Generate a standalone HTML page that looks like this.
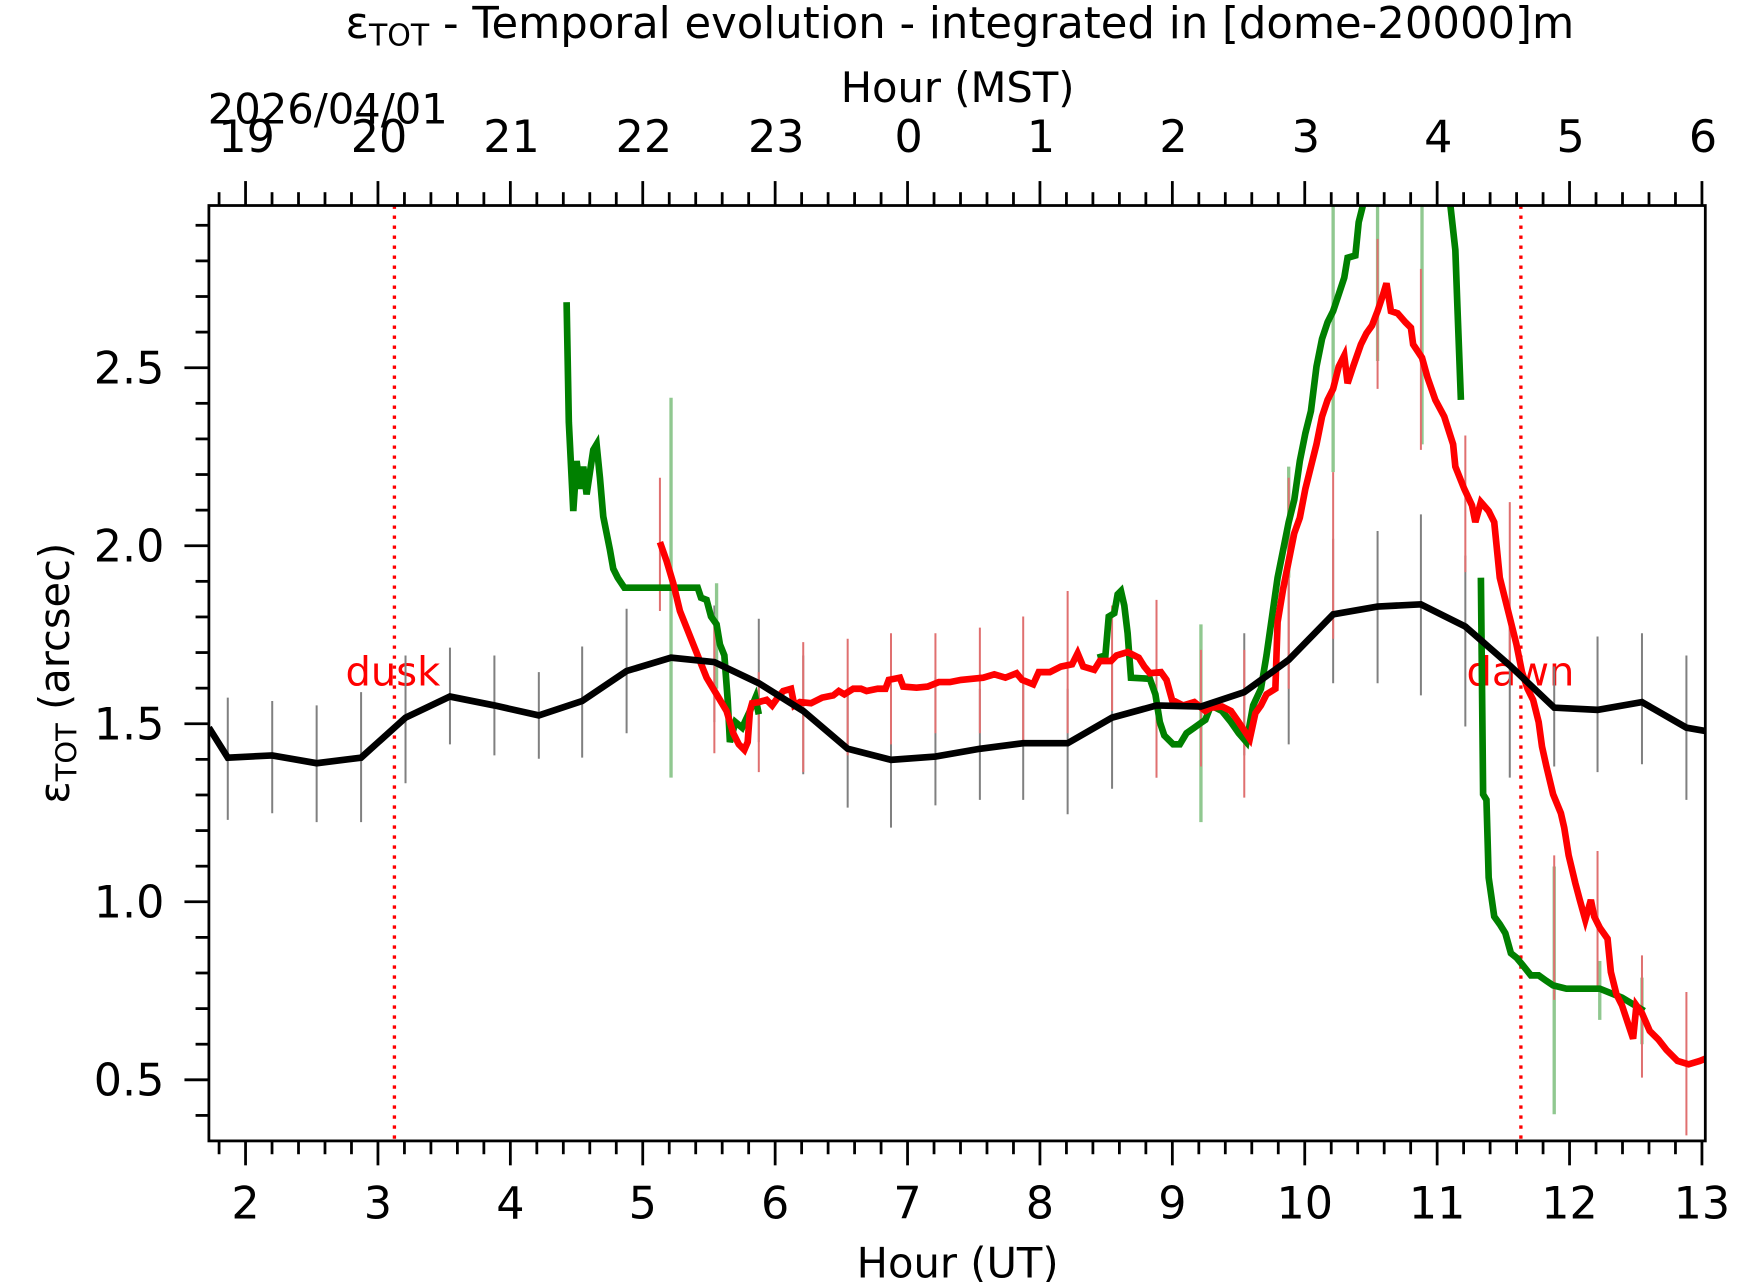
<!DOCTYPE html>
<html><head><meta charset="utf-8"><style>html,body{margin:0;padding:0;background:#fff}svg{display:block}</style></head>
<body>
<svg width="1742" height="1282" viewBox="0 0 1568 1154" xmlns="http://www.w3.org/2000/svg" font-family="'DejaVu Sans','Liberation Sans',sans-serif">
<rect width="1568" height="1154" fill="#fff"/>
<defs><clipPath id="c"><rect x="188" y="185" width="1347" height="842"/></clipPath></defs>
<g stroke="#000" stroke-width="2.5" id="ticks"></g>
<g clip-path="url(#c)">
<line x1="355" y1="185" x2="355" y2="1027" stroke="#f00" stroke-width="3" stroke-dasharray="3,6"/>
<line x1="1369" y1="185" x2="1369" y2="1027" stroke="#f00" stroke-width="3" stroke-dasharray="3,6"/>
<text x="311" y="617" fill="#f00" font-size="36">dusk</text>
<text x="1320" y="617" fill="#f00" font-size="36">dawn</text>
<g stroke="#808080" stroke-width="1.8" id="kerr"></g>
<g stroke="#90c890" stroke-width="3" id="gerr"></g>
<g stroke="#e07070" stroke-width="1.8" id="rerr"></g>
<polyline fill="none" stroke="#008000" stroke-width="6" points="510,272 512,380 516,460 519,415 522,440 525,420 528,445 531,425 534,405 537,400 540,430 543,465 546,480 549,495 552,512 556,520 562,529 628,529 631,538 636,540 640,555 645,562 648,580 652,590 655,630 657,668 662,650 668,655 675,640 680,628 683,643"/>
<polyline fill="none" stroke="#008000" stroke-width="6" points="988,592 995,590 998,555 1003,552 1006,535 1009,532 1012,545 1015,570 1018,610 1035,611 1040,625 1044,650 1048,662 1056,670 1062,670 1068,660 1075,655 1082,650 1085,648 1090,635 1100,640 1108,650 1115,660 1122,668 1128,635 1135,620 1140,590 1145,555 1150,520 1155,495 1160,470 1165,450 1170,415 1175,390 1180,370 1185,330 1190,305 1195,290 1200,280 1205,265 1210,250 1213,232 1220,230 1223,200 1228,180"/>
<polyline fill="none" stroke="#008000" stroke-width="6" points="1305,180 1310,225 1312,280 1315,360"/>
<polyline fill="none" stroke="#008000" stroke-width="6" points="1333,520 1335,715 1338,720 1340,790 1345,825 1350,832 1355,840 1360,858 1365,862 1370,868 1378,878 1385,878 1392,883 1398,887 1410,890 1440,890 1460,898 1480,910"/>
<polyline fill="none" stroke="#f00" stroke-width="6" points="594,488 600,505 606,525 612,550 618,565 624,580 630,595 636,610 642,620 648,630 654,640 660,660 665,670 670,675 673,668 675,640 677,633 683,632 690,630 695,635 700,628 705,622 712,620 715,635 720,632 730,633 740,628 750,626 755,622 760,625 768,620 775,620 780,622 790,620 797,620 800,612 810,610 813,618 825,619 835,618 845,614 855,614 865,612 875,611 885,610 895,607 905,610 915,606 920,612 930,616 935,605 945,605 955,600 965,598 970,588 975,600 985,603 990,595 1000,595 1005,590 1015,587 1025,592 1030,600 1035,606 1045,605 1050,612 1055,630 1065,635 1075,632 1085,640 1090,637 1100,636 1108,640 1115,650 1125,665 1130,642 1135,635 1140,625 1148,620 1150,560 1155,530 1160,505 1165,480 1170,466 1175,440 1180,420 1185,400 1190,375 1195,360 1200,350 1205,330 1210,320 1213,345 1218,330 1225,310 1230,300 1235,293 1240,280 1245,265 1248,255 1252,280 1258,282 1265,290 1270,295 1272,310 1280,322 1285,340 1292,360 1300,375 1308,400 1310,420 1318,440 1325,455 1328,470 1333,452 1340,460 1345,470 1350,520 1355,540 1360,560 1365,580 1370,605 1375,620 1380,630 1385,650 1388,672 1392,690 1398,715 1405,732 1408,745 1412,770 1418,795 1422,810 1427,828 1432,810 1435,825 1440,835 1447,845 1450,875 1455,895 1460,905 1465,920 1470,935 1473,905 1478,912 1485,928 1493,936 1500,945 1510,955 1520,958 1530,955 1535,953"/>
<polyline fill="none" stroke="#000" stroke-width="6" points="188,655 205,682 245,680 285,687 325,682 365,646 405,627 445,635 485,644 524,631 564,604 604,592 643,596 683,615 723,640 763,674 802,684 842,681 882,674 921,669 961,669 1001,646 1041,635 1081,636 1120,623 1160,594 1200,553 1240,546 1279,544 1319,564 1359,599 1399,637 1438,639 1478,632 1518,655 1535,658"/>
</g>
<rect x="188" y="185" width="1347" height="842" fill="none" stroke="#000" stroke-width="2.5"/>
<g font-size="40" text-anchor="middle" id="lbl"></g>
<text x="864" y="34" font-size="39" text-anchor="middle">ε<tspan font-size="27" dy="7">TOT</tspan><tspan dy="-7"> - Temporal evolution - integrated in [dome-20000]m</tspan></text>
<text x="862" y="92" font-size="37.5" text-anchor="middle">Hour (MST)</text>
<text x="295" y="111" font-size="37.5" text-anchor="middle">2026/04/01</text>
<text x="862" y="1150" font-size="37.5" text-anchor="middle">Hour (UT)</text>
<text transform="translate(62,606) rotate(-90)" font-size="37.5" text-anchor="middle">ε<tspan font-size="26" dy="7">TOT</tspan><tspan dy="-7"> (arcsec)</tspan></text>
<script>
var ns="http://www.w3.org/2000/svg";
function L(g,x1,y1,x2,y2){var l=document.createElementNS(ns,"line");l.setAttribute("x1",x1);l.setAttribute("y1",y1);l.setAttribute("x2",x2);l.setAttribute("y2",y2);document.getElementById(g).appendChild(l);}
function T(x,y,s,a){var t=document.createElementNS(ns,"text");t.setAttribute("x",x);t.setAttribute("y",y);if(a)t.setAttribute("text-anchor",a);t.textContent=s;document.getElementById("lbl").appendChild(t);}
var X=function(t){return 221+(t-2)*119.18;};
for(var i=0;i<=60;i++){var t=1.8+i*0.2;var x=X(t);if(x<187||x>1536)continue;var maj=Math.abs(t-Math.round(t))<0.01;var len=maj?22:12;
L("ticks",x,1027,x,1027+len);L("ticks",x,185,x,185-len);
if(maj){var h=Math.round(t);T(x,1097,""+h);var m=(h-7+24)%24;T(x+1,137,""+m);}}
var Y=function(v){return 972-(v-0.5)*320.5;};
for(var i=0;i<=30;i++){var v=0.3+i*0.1;var y=Y(v);if(y<186||y>1027)continue;var maj=Math.abs(v*2-Math.round(v*2))<0.01;
L("ticks",188,y,188-(maj?22:12),y);if(maj)T(148,y+14,v.toFixed(1),"end");}
var k=[[205,628,738],[245,631,732],[285,635,740],[325,623,740],[365,590,705],[405,583,670],[445,590,680],[485,605,683],[524,582,682],[564,548,660],[604,540,650],[643,545,650],[683,557,668],[723,590,697],[763,620,727],[802,620,745],[842,610,725],[882,620,720],[921,610,720],[961,620,733],[1001,590,710],[1041,590,700],[1081,580,690],[1120,570,680],[1160,505,670],[1200,485,615],[1240,478,615],[1279,463,626],[1319,500,654],[1359,560,700],[1399,600,690],[1438,573,695],[1478,570,688],[1518,590,720]];
k.forEach(function(a){L("kerr",a[0],a[1],a[0],a[2]);});
[[604,358,700],[645,525,620],[1081,562,740],[1160,420,520],[1200,185,425],[1240,185,325],[1280,185,400],[1399,780,1003],[1440,865,918],[1478,880,940]].forEach(function(a){L("gerr",a[0],a[1],a[0],a[2]);});
[[594,430,550],[643,560,678],[683,605,695],[723,578,695],[763,575,680],[802,570,670],[842,570,660],[882,565,660],[921,555,670],[961,532,660],[1001,545,640],[1041,540,700],[1081,585,690],[1120,585,718],[1160,430,620],[1200,425,575],[1240,215,350],[1279,242,405],[1319,392,515],[1359,452,600],[1399,770,900],[1438,766,888],[1478,860,970],[1518,893,1022]].forEach(function(a){L("rerr",a[0],a[1],a[0],a[2]);});
</script>
</svg>
</body></html>
